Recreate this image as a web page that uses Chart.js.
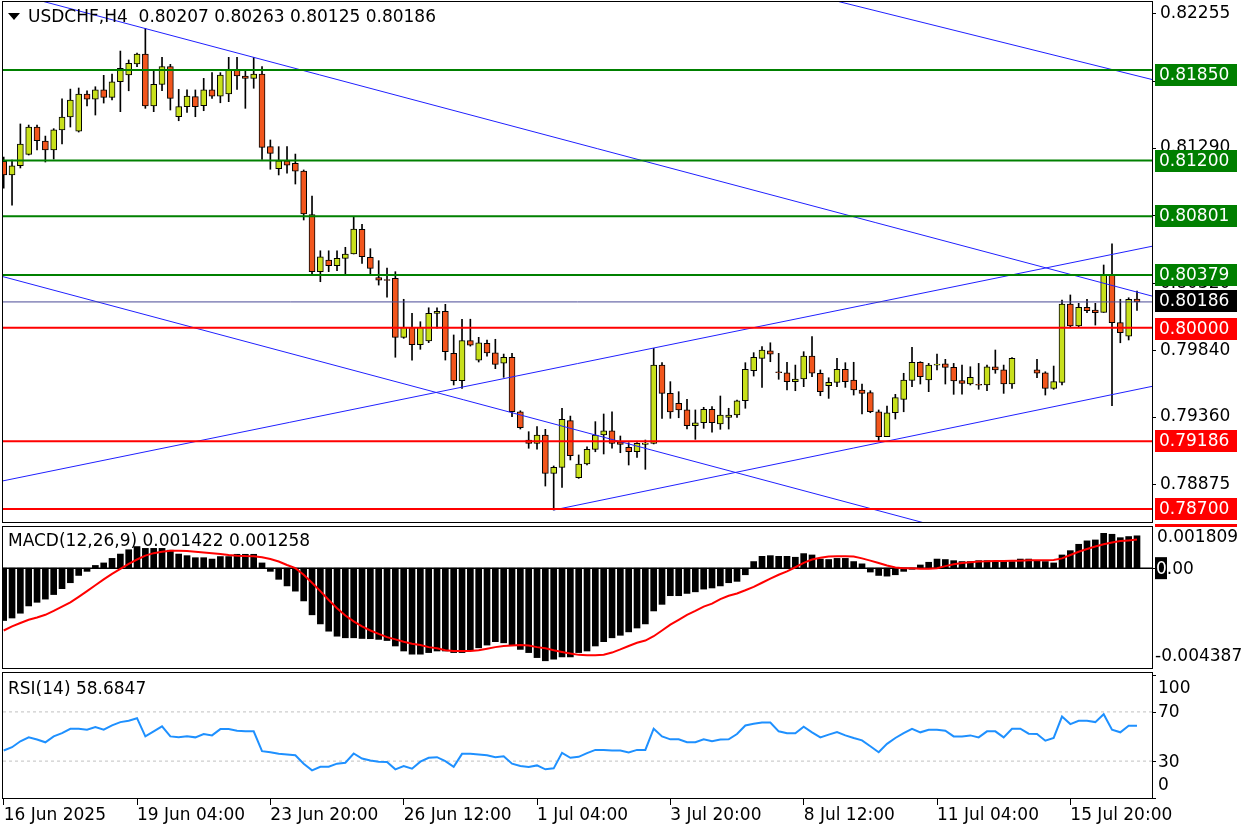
<!DOCTYPE html>
<html>
<head>
<meta charset="utf-8">
<title>USDCHF H4</title>
<script src="https://cdn.jsdelivr.net/npm/chart.js@4.4.1/dist/chart.umd.min.js"></script>
<style>
  html, body { margin: 0; padding: 0; background: #fff; }
  #wrap { position: relative; width: 1248px; height: 832px; overflow: hidden; background: #fff; }
  canvas { position: absolute; left: 0; }
  .lbl { position: absolute; font: 17px "DejaVu Sans", sans-serif; color: #000; white-space: pre; line-height: 20px; }
  .tri { position: absolute; left: 8px; top: 13px; width: 0; height: 0;
         border-left: 6px solid transparent; border-right: 6px solid transparent; border-top: 7px solid #000; }
</style>
</head>
<body>
<div id="wrap">
  <canvas id="priceChart" width="1248" height="524" style="top:0"></canvas>
  <canvas id="macdChart" width="1248" height="147" style="top:524px"></canvas>
  <canvas id="rsiChart" width="1248" height="161" style="top:671px"></canvas>
  <div class="tri"></div>
  <div class="lbl" style="left:28px;top:6px">USDCHF,H4  0.80207 0.80263 0.80125 0.80186</div>
  <div class="lbl" style="left:8px;top:530px">MACD(12,26,9) 0.001422 0.001258</div>
  <div class="lbl" style="left:8px;top:678px">RSI(14) 58.6847</div>
</div>
<script>
// H4 candles, index 0 = first bar on screen (two bars missing at 122-123)
const candleOpen = [
  0.81194,0.81097,0.81163,0.81245,0.81441,0.81340,0.81276,0.81420,0.81513,0.81412,
  0.81678,0.81640,0.81707,0.81654,0.81766,0.81814,0.81893,0.81965,0.81592,0.81747,
  0.81874,0.81515,0.81587,0.81659,0.81594,0.81707,0.81663,0.81678,0.81855,0.81807,
  0.81790,0.81821,0.81300,0.81142,0.81199,0.81180,0.81125,0.80812,0.80403,0.80487,
  0.80446,0.80499,0.80530,0.80707,0.80506,0.80360,0.80345,0.80355,0.79932,0.80004,
  0.79879,0.79906,0.80104,0.80119,0.79817,0.79621,0.79908,0.79769,0.79889,0.79821,
  0.79746,0.79789,0.79398,0.79195,0.79171,0.79231,0.78956,0.78999,0.79334,0.78925,
  0.79023,0.79128,0.79231,0.79262,0.79183,0.79143,0.79111,0.79164,0.79171,0.79733,
  0.79530,0.79459,0.79411,0.79298,0.79319,0.79416,0.79310,0.79358,0.79375,0.79477,
  0.79693,0.79781,0.79836,0.79685,0.79678,0.79614,0.79633,0.79798,0.79674,0.79585,
  0.79609,0.79702,0.79626,0.79554,0.79535,0.79398,0.79219,0.79391,0.79487,0.79623,
  0.79753,0.79626,0.79733,0.79741,0.79717,0.79621,0.79597,0.79595,0.79590,0.79721,
  0.79698,0.79597,null,null,0.79698,0.79678,0.79566,0.79609,0.80171,0.80013,
  0.80147,0.80128,0.80111,0.80379,0.80037,0.79941,0.80207
];
const candleHigh = [
  0.81226,0.81204,0.81463,0.81455,0.81455,0.81376,0.81429,0.81644,0.81713,0.81721,
  0.81700,0.81730,0.81812,0.81821,0.81986,0.81922,0.81972,0.82149,0.81845,0.81941,
  0.81891,0.81711,0.81707,0.81707,0.81790,0.81831,0.81831,0.81941,0.81941,0.81845,
  0.81941,0.81874,0.81348,0.81300,0.81300,0.81247,0.81133,0.80946,0.80553,0.80553,
  0.80553,0.80578,0.80797,0.80743,0.80568,0.80482,0.80429,0.80403,0.80205,0.80104,
  0.80044,0.80144,0.80144,0.80169,0.79949,0.80062,0.80062,0.79932,0.79913,0.79918,
  0.79812,0.79817,0.79405,0.79255,0.79291,0.79272,0.79009,0.79423,0.79367,0.79088,
  0.79147,0.79327,0.79382,0.79398,0.79224,0.79176,0.79176,0.79195,0.79853,0.79750,
  0.79614,0.79542,0.79487,0.79411,0.79430,0.79435,0.79511,0.79423,0.79482,0.79750,
  0.79822,0.79865,0.79893,0.79817,0.79753,0.79733,0.79829,0.79937,0.79698,0.79642,
  0.79781,0.79750,0.79753,0.79597,0.79549,0.79411,0.79439,0.79523,0.79674,0.79860,
  0.79757,0.79745,0.79812,0.79774,0.79745,0.79733,0.79721,0.79745,0.79733,0.79841,
  0.79733,0.79786,null,null,0.79774,0.79685,0.79726,0.80200,0.80236,0.80176,
  0.80205,0.80176,0.80451,0.80602,0.80205,0.80216,0.80263
];
const candleLow = [
  0.81003,0.80881,0.81147,0.81240,0.81276,0.81190,0.81211,0.81319,0.81441,0.81405,
  0.81592,0.81527,0.81613,0.81635,0.81551,0.81701,0.81874,0.81575,0.81551,0.81701,
  0.81563,0.81486,0.81546,0.81515,0.81558,0.81647,0.81615,0.81623,0.81711,0.81575,
  0.81719,0.81209,0.81138,0.81097,0.81109,0.81032,0.80774,0.80379,0.80331,0.80403,
  0.80410,0.80379,0.80530,0.80463,0.80384,0.80307,0.80221,0.79789,0.79925,0.79769,
  0.79846,0.79894,0.79997,0.79769,0.79590,0.79566,0.79869,0.79755,0.79797,0.79707,
  0.79645,0.79362,0.79274,0.79136,0.79129,0.78865,0.78693,0.78856,0.79052,0.78920,
  0.79016,0.79111,0.79095,0.79136,0.79104,0.79016,0.79071,0.78985,0.79167,0.79351,
  0.79351,0.79355,0.79274,0.79200,0.79279,0.79252,0.79272,0.79274,0.79358,0.79423,
  0.79654,0.79573,0.79757,0.79631,0.79554,0.79549,0.79578,0.79649,0.79513,0.79494,
  0.79578,0.79573,0.79518,0.79382,0.79391,0.79190,0.79219,0.79346,0.79398,0.79578,
  0.79597,0.79542,0.79698,0.79597,0.79523,0.79525,0.79590,0.79559,0.79549,0.79674,
  0.79530,0.79566,null,null,0.79642,0.79518,0.79559,0.79590,0.80008,0.80004,
  0.80109,0.80020,0.80111,0.79441,0.79893,0.79913,0.80125
];
const candleClose = [
  0.81097,0.81163,0.81319,0.81441,0.81343,0.81276,0.81420,0.81513,0.81635,0.81678,
  0.81640,0.81707,0.81654,0.81766,0.81862,0.81898,0.81965,0.81592,0.81747,0.81874,
  0.81647,0.81587,0.81663,0.81587,0.81707,0.81663,0.81814,0.81855,0.81807,0.81790,
  0.81821,0.81295,0.81252,0.81199,0.81168,0.81125,0.80817,0.80403,0.80510,0.80446,
  0.80499,0.80530,0.80709,0.80510,0.80427,0.80343,0.80340,0.79932,0.80004,0.79879,
  0.80004,0.80104,0.80119,0.79829,0.79621,0.79908,0.79875,0.79893,0.79821,0.79738,
  0.79789,0.79398,0.79283,0.79171,0.79231,0.78956,0.78999,0.79344,0.79083,0.79023,
  0.79128,0.79231,0.79262,0.79171,0.79164,0.79111,0.79171,0.79174,0.79733,0.79530,
  0.79396,0.79411,0.79298,0.79319,0.79416,0.79319,0.79375,0.79375,0.79477,0.79702,
  0.79789,0.79841,0.79812,0.79678,0.79614,0.79633,0.79798,0.79674,0.79542,0.79609,
  0.79702,0.79614,0.79554,0.79530,0.79398,0.79219,0.79391,0.79499,0.79626,0.79753,
  0.79650,0.79733,0.79738,0.79717,0.79619,0.79602,0.79645,0.79588,0.79721,0.79698,
  0.79597,0.79781,null,null,0.79674,0.79566,0.79614,0.80171,0.80013,0.80147,
  0.80123,0.80109,0.80379,0.80037,0.79965,0.80205,0.80186
];

const macdHist = [
  -0.00230,-0.00219,-0.00198,-0.00166,-0.00150,-0.00136,-0.00116,-0.00090,-0.00064,-0.00032,
  -0.00014,0.00012,0.00023,0.00043,0.00062,0.00081,0.00095,0.00087,0.00087,0.00087,
  0.00079,0.00062,0.00055,0.00046,0.00046,0.00040,0.00051,0.00051,0.00061,0.00061,
  0.00061,0.00023,-0.00014,-0.00049,-0.00078,-0.00101,-0.00144,-0.00205,-0.00245,-0.00277,
  -0.00299,-0.00306,-0.00306,-0.00309,-0.00310,-0.00313,-0.00318,-0.00342,-0.00364,-0.00378,
  -0.00378,-0.00371,-0.00364,-0.00364,-0.00371,-0.00371,-0.00361,-0.00350,-0.00338,-0.00323,
  -0.00328,-0.00338,-0.00357,-0.00371,-0.00393,-0.00407,-0.00400,-0.00390,-0.00390,-0.00371,
  -0.00364,-0.00342,-0.00323,-0.00306,-0.00295,-0.00280,-0.00263,-0.00245,-0.00188,-0.00159,
  -0.00121,-0.00121,-0.00111,-0.00104,-0.00092,-0.00087,-0.00078,-0.00064,-0.00058,-0.00029,
  0.00029,0.00052,0.00055,0.00052,0.00052,0.00048,0.00064,0.00058,0.00040,0.00038,
  0.00043,0.00043,0.00029,0.00019,-0.00017,-0.00032,-0.00035,-0.00029,-0.00014,-0.00005,
  0.00014,0.00026,0.00040,0.00038,0.00033,0.00029,0.00029,0.00033,0.00033,0.00029,
  0.00029,0.00029,0.00040,0.00040,0.00033,0.00029,0.00023,0.00058,0.00077,0.00105,
  0.00120,0.00124,0.00153,0.00149,0.00134,0.00139,0.001422
];
const macdSignal = [
  -0.00274,-0.00256,-0.00241,-0.00227,-0.00217,-0.00205,-0.00188,-0.00169,-0.00150,-0.00126,
  -0.00101,-0.00075,-0.00049,-0.00025,-0.00003,0.00019,0.00038,0.00055,0.00066,0.00072,
  0.00077,0.00077,0.00075,0.00072,0.00069,0.00066,0.00062,0.00058,0.00055,0.00053,
  0.00052,0.00048,0.00040,0.00029,0.00014,0.00000,-0.00029,-0.00064,-0.00101,-0.00140,
  -0.00176,-0.00208,-0.00234,-0.00256,-0.00274,-0.00289,-0.00303,-0.00313,-0.00323,-0.00332,
  -0.00338,-0.00347,-0.00352,-0.00361,-0.00364,-0.00364,-0.00364,-0.00361,-0.00354,-0.00347,
  -0.00342,-0.00340,-0.00338,-0.00340,-0.00347,-0.00352,-0.00361,-0.00368,-0.00375,-0.00381,
  -0.00383,-0.00383,-0.00380,-0.00371,-0.00357,-0.00342,-0.00328,-0.00318,-0.00299,-0.00274,
  -0.00248,-0.00227,-0.00205,-0.00188,-0.00169,-0.00156,-0.00136,-0.00121,-0.00111,-0.00097,
  -0.00082,-0.00064,-0.00046,-0.00029,-0.00014,0.00004,0.00023,0.00038,0.00046,0.00051,
  0.00052,0.00052,0.00051,0.00043,0.00033,0.00023,0.00012,0.00003,0.00000,0.00000,
  -0.00003,-0.00003,0.00000,0.00009,0.00017,0.00023,0.00026,0.00029,0.00030,0.00032,
  0.00032,0.00033,0.00033,0.00035,0.00035,0.00035,0.00036,0.00043,0.00058,0.00072,
  0.00084,0.00095,0.00105,0.00113,0.00119,0.00122,0.001258
];
const rsiValues = [
  38.6,41.3,46.1,49.3,47.5,45.3,50.1,52.8,56.3,56.3,
  55.5,57.7,55.5,59.0,61.7,62.8,64.9,50.1,54.2,58.2,
  50.1,49.3,50.1,49.3,52.0,50.9,56.0,56.0,54.7,54.2,
  54.2,38.1,37.2,35.9,35.4,34.8,27.9,22.5,25.4,25.4,
  27.9,28.7,36.2,32.1,30.5,29.5,29.2,23.3,26.0,23.8,
  29.5,32.7,33.2,30.0,25.4,35.9,35.9,35.4,34.8,33.2,
  34.0,27.9,26.0,25.2,26.5,23.3,24.1,36.7,32.7,33.5,
  36.5,39.1,39.1,38.6,38.6,37.0,39.1,39.1,56.3,50.1,
  47.7,47.7,45.3,45.3,47.7,46.1,47.5,47.7,52.0,59.0,
  60.3,61.4,61.4,54.2,52.6,52.6,57.9,53.4,49.3,51.5,
  53.6,50.9,48.8,46.9,42.1,37.2,44.0,48.8,52.8,56.3,
  53.4,55.5,55.5,54.7,50.1,50.1,50.9,49.3,54.2,54.2,
  49.3,56.3,56.3,52.3,52.0,46.6,48.8,66.2,60.1,62.8,
  62.8,61.7,68.1,55.5,53.4,58.7,58.6847
];

const priceTicks = [0.82255, 0.81770, 0.81290, 0.80805, 0.80320, 0.79840, 0.79360, 0.78875];
const timeTickPos = [0, 16, 32, 48, 64, 80, 96, 112, 128];
const timeTickLabels = ['16 Jun 2025', '19 Jun 04:00', '23 Jun 20:00', '26 Jun 12:00', '1 Jul 04:00',
                        '3 Jul 20:00', '8 Jul 12:00', '11 Jul 04:00', '15 Jul 20:00'];
const greenLevels = [0.81850, 0.81200, 0.80801, 0.80379];
const redLevels = [0.80000, 0.79186, 0.78700];
const lastPrice = 0.80186;
// trend lines: [bar index, price] pairs
const trendLines = [
  [[4, 0.82354], [139, 0.80209]],
  [[99, 0.82359], [139, 0.81764]],
  [[-1, 0.80382], [112, 0.78576]],
  [[-1, 0.78891], [139, 0.80600]],
  [[66, 0.78693], [139, 0.79595]]
];
const rsiLevels = [70, 30];
const rsiAxisLabels = [100, 70, 30, 0];
const MACD_MAX = 0.001809, MACD_MIN = -0.004387;

const X_MIN = -0.084, X_MAX = 137.8;
const P_MIN = 0.78607, P_MAX = 0.82338;
const FONT = '"DejaVu Sans", sans-serif';
const BULL = '#c8e01c', BEAR = '#f2561d';

Chart.defaults.font.family = FONT;
Chart.defaults.font.size = 17;
Chart.defaults.color = '#000';

// fixed-size axis boxes, no automatic label padding
function fitBox(w, h) {
  return s => {
    if (w) s.width = w;
    if (h) s.height = h;
    s.paddingTop = 0; s.paddingBottom = 0; s.paddingLeft = 0; s.paddingRight = 0;
  };
}
function rightAxis(extra) {
  return Object.assign({
    position: 'right',
    afterFit: fitBox(96, 0),
    ticks: { display: false },
    grid: { display: false },
    border: { display: true, color: '#000' }
  }, extra);
}
function hiddenX() {
  return { type: 'linear', min: X_MIN, max: X_MAX, offset: false, display: false, grid: { offset: false } };
}
function hLine(v, color, width, dash) {
  return { type: 'line', data: [{ x: X_MIN, y: v }, { x: X_MAX, y: v }], borderColor: color,
           borderWidth: width, borderDash: dash || [], pointRadius: 0, order: 0 };
}
function frame(extraTop) {
  return {
    id: 'frame',
    afterDraw(chart) {
      const a = chart.chartArea, c = chart.ctx;
      c.save();
      c.strokeStyle = '#000';
      c.lineWidth = 1;
      c.strokeRect(Math.round(a.left) - 0.5, Math.round(a.top) - 0.5 - extraTop,
                   Math.round(a.right - a.left) + 1, Math.round(a.bottom - a.top) + 1 + extraTop);
      c.restore();
    }
  };
}
const baseOpts = { responsive: false, animation: false, devicePixelRatio: 1, events: [],
                   plugins: { legend: { display: false }, tooltip: { enabled: false } } };

// ---- price panel ----
const barIdx = candleOpen.map((v, i) => i).filter(i => candleOpen[i] !== null);
const wicks = barIdx.map(i => ({ x: i, y: [candleLow[i], candleHigh[i]] }));
const bodies = barIdx.map(i => ({ x: i, y: [candleOpen[i], candleClose[i]] }));
const bodyFill = barIdx.map(i => candleClose[i] >= candleOpen[i] ? BULL : BEAR);

// price tags on the axis; the top one sits a little below its line, as in MT4
const levelTags = [
  ...greenLevels.map((v, i) => ({ value: v, bg: '#007f00', dy: i === 0 ? 5 : 0 })),
  { value: lastPrice, bg: '#000000', dy: -1 },
  ...redLevels.map((v, i) => ({ value: v, bg: '#ff0000', dy: i === 0 ? 1 : 0 }))
];
const levelBoxes = {
  id: 'levelBoxes',
  afterDraw(chart) {
    const { ctx, scales: { y } } = chart;
    ctx.save();
    ctx.font = '17px ' + FONT;
    ctx.textBaseline = 'middle';
    levelTags.forEach(t => {
      const py = Math.round(y.getPixelForValue(t.value)) + t.dy;
      ctx.fillStyle = t.bg;
      ctx.fillRect(y.left + 3, py - 11, 82, 22);
      ctx.fillStyle = '#fff';
      ctx.fillText(t.value.toFixed(5), y.left + 7, py + 1);
    });
    ctx.restore();
  }
};

const priceDatasets = [
  { type: 'bar', data: wicks, backgroundColor: '#000', barThickness: 1, grouped: false, order: 3 },
  { type: 'bar', data: bodies, backgroundColor: bodyFill, borderColor: '#000', borderWidth: 1,
    borderSkipped: false, barThickness: 6, minBarLength: 1, grouped: false, order: 2 },
  ...greenLevels.map(v => hLine(v, '#008000', 2)),
  ...redLevels.map(v => hLine(v, '#ff0000', 2)),
  hLine(lastPrice, '#4a4a96', 1),
  ...trendLines.map(t => ({ type: 'line', data: t.map(p => ({ x: p[0], y: p[1] })), borderColor: '#2020ff',
                           borderWidth: 1, pointRadius: 0, order: 0 }))
];

new Chart(document.getElementById('priceChart'), {
  type: 'bar',
  data: { datasets: priceDatasets },
  options: Object.assign({}, baseOpts, {
    layout: { autoPadding: false, padding: { left: 3, top: 2, right: 0, bottom: 2 } },
    scales: {
      x: hiddenX(),
      y: {
        position: 'right', min: P_MIN, max: P_MAX,
        afterFit: fitBox(96, 0),
        afterBuildTicks: s => { s.ticks = priceTicks.map(v => ({ value: v })); },
        ticks: { callback: v => v.toFixed(5), padding: 4, color: '#000' },
        grid: { drawOnChartArea: false, drawTicks: true, tickLength: 4, color: '#000' },
        border: { display: true, color: '#000' }
      }
    }
  }),
  plugins: [frame(0), levelBoxes]
});

// ---- MACD panel ----
const macdLabels = {
  id: 'macdLabels',
  afterDraw(chart) {
    const { ctx, scales: { y } } = chart;
    const x0 = y.left;
    ctx.save();
    ctx.font = '17px ' + FONT;
    ctx.textBaseline = 'middle';
    ctx.fillStyle = '#ff0000';
    ctx.fillRect(x0 + 3, 0, 82, 3);
    const top = y.getPixelForValue(MACD_MAX), bot = y.getPixelForValue(MACD_MIN), zero = y.getPixelForValue(0);
    ctx.fillStyle = '#000';
    ctx.fillText(MACD_MAX.toFixed(6), x0 + 5, top + 11);
    ctx.fillText(MACD_MIN.toFixed(6), x0 + 3, bot - 11);
    ctx.fillRect(x0 + 3, zero - 11, 12, 22);
    ctx.fillStyle = '#fff';
    ctx.fillText('0', x0 + 4, zero + 1);
    const w0 = ctx.measureText('0').width;
    ctx.fillStyle = '#000';
    ctx.fillText('.00', x0 + 4 + w0, zero + 1);
    ctx.fillRect(x0, Math.round(zero), 4, 1);
    ctx.restore();
  }
};

new Chart(document.getElementById('macdChart'), {
  type: 'bar',
  data: {
    datasets: [
      hLine(0, '#000', 1.5),
      { type: 'bar', data: macdHist.map((v, i) => ({ x: i, y: v })), backgroundColor: '#000',
        barThickness: 6, grouped: false, order: 2 },
      { type: 'line', data: macdSignal.map((v, i) => ({ x: i, y: v })), borderColor: '#ff0000',
        borderWidth: 2, pointRadius: 0, order: -1 }
    ]
  },
  options: Object.assign({}, baseOpts, {
    layout: { autoPadding: false, padding: { left: 3, top: 3, right: 0, bottom: 3 } },
    scales: { x: hiddenX(), y: rightAxis({ min: MACD_MIN, max: MACD_MAX }) }
  }),
  plugins: [frame(0), macdLabels]
});

// ---- RSI panel ----
const rsiLabels = {
  id: 'rsiLabels',
  afterDraw(chart) {
    const { ctx, scales: { y } } = chart;
    ctx.save();
    ctx.font = '17px ' + FONT;
    ctx.textBaseline = 'middle';
    ctx.fillStyle = '#000';
    rsiAxisLabels.forEach(v => {
      const py = y.getPixelForValue(v);
      const dy = v === 100 ? 13 : (v === 0 ? -13 : 0);
      ctx.fillText(String(v), y.left + 6, py + dy + 1);
      ctx.fillRect(y.left, Math.round(py), 4, 1);
    });
    ctx.restore();
  }
};

new Chart(document.getElementById('rsiChart'), {
  type: 'line',
  data: {
    datasets: [
      ...rsiLevels.map(v => hLine(v, '#c0c0c0', 1, [3, 3])),
      { type: 'line', data: rsiValues.map((v, i) => ({ x: i, y: v })), borderColor: '#1e90ff',
        borderWidth: 2, pointRadius: 0, order: -1 }
    ]
  },
  options: Object.assign({}, baseOpts, {
    layout: { autoPadding: false, padding: { left: 3, top: 4, right: 0, bottom: 0 } },
    scales: {
      x: {
        type: 'linear', min: X_MIN, max: X_MAX, offset: false, position: 'bottom',
        afterFit: fitBox(0, 34),
        afterBuildTicks: s => { s.ticks = timeTickPos.map(v => ({ value: v })); },
        ticks: { autoSkip: false, maxRotation: 0, align: 'start', padding: 0, color: '#000',
                 callback: (v, i) => timeTickLabels[i] },
        grid: { drawOnChartArea: false, drawTicks: true, tickLength: 7, color: '#000', offset: false },
        border: { display: true, color: '#000' }
      },
      y: rightAxis({ min: 0, max: 100 })
    }
  }),
  plugins: [frame(2), rsiLabels]
});
</script>
</body>
</html>
